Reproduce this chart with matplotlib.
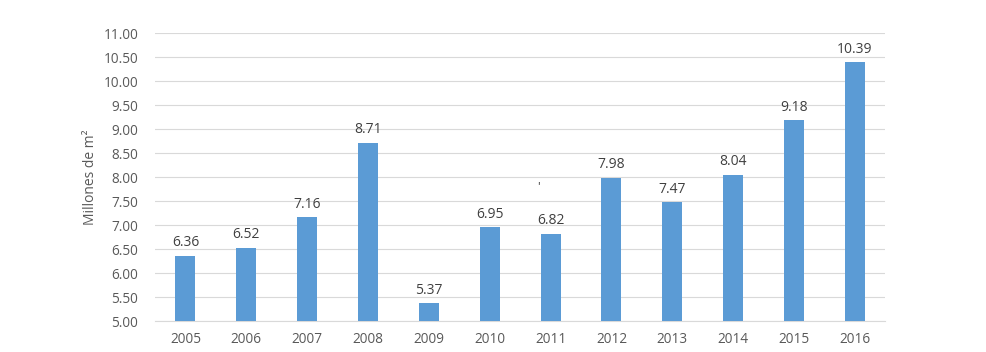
import matplotlib
matplotlib.use("Agg")
import matplotlib.pyplot as plt
import numpy as np

years = ["2005", "2006", "2007", "2008", "2009", "2010", "2011", "2012", "2013", "2014", "2015", "2016"]
values = [6.36, 6.52, 7.16, 8.71, 5.37, 6.95, 6.82, 7.98, 7.47, 8.04, 9.18, 10.39]
yticks = [5.0, 5.5, 6.0, 6.5, 7.0, 7.5, 8.0, 8.5, 9.0, 9.5, 10.0, 10.5, 11.0]

plt.rcParams['font.family'] = ['Open Sans', 'DejaVu Sans']

fig = plt.figure(figsize=(9.87, 3.52), dpi=100)
ax = fig.add_axes([0.157, 0.088, 0.74, 0.818])

x = np.arange(len(years))
ax.bar(x, values, width=0.33, color='#5B9BD5', zorder=3)
for xi, v in zip(x, values):
    ax.text(xi, v + 0.12, f"{v:.2f}", ha='center', va='bottom', fontsize=10, color='#404040')

# small stray mark from the original
ax.text(5.8, 7.78, "'", ha='center', va='center', fontsize=9, color='#404040')

ax.set_ylim(5, 11)
ax.set_xlim(-0.5, len(years) - 0.5)
ax.set_yticks(yticks)
ax.set_yticklabels([f"{t:.2f}" for t in yticks])
ax.set_xticks(x)
ax.set_xticklabels(years)
ax.tick_params(axis='both', length=0, labelsize=9.8, labelcolor='#595959')
ax.tick_params(axis='y', pad=12)
ax.tick_params(axis='x', pad=8)
ax.grid(axis='y', color='#D9D9D9', linewidth=0.8, zorder=0)
for s in ['top', 'right', 'left']:
    ax.spines[s].set_visible(False)
ax.spines['bottom'].set_color('#D9D9D9')
ax.set_ylabel("Millones de m²", fontsize=10, color='#595959', labelpad=4)

fig.savefig("out.png", dpi=100)
